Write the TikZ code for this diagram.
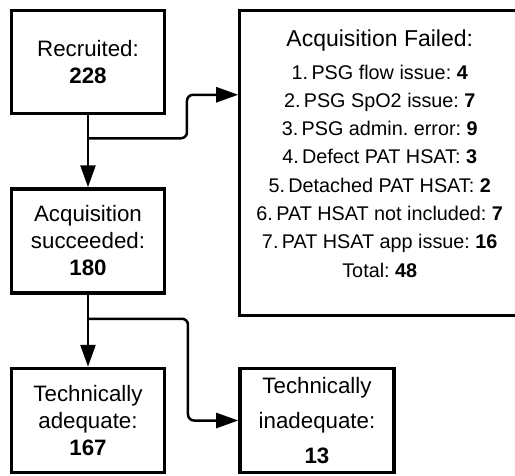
\documentclass[tikz,border=0pt]{standalone}
\usepackage{fontspec}
\setmainfont{Liberation Sans}
\frenchspacing
\usetikzlibrary{arrows.meta, positioning}

\tikzset{
    stagebox/.style={draw, line width=3.5pt, minimum width=153pt, minimum height=104pt,
        inner sep=2pt, align=center, font=\fontsize{22.3}{27}\selectfont},
    failbox/.style={draw, line width=3pt, minimum width=280pt, minimum height=305pt,
        anchor=north west, align=center, font=\fontsize{19.8}{28.3}\selectfont},
    flow/.style={->, line width=2.5pt, rounded corners=6pt}
}

\begin{document}
\begin{tikzpicture}[>={Triangle[length=22pt, width=15pt]}, node distance=72pt and 72pt]
    \path[use as bounding box, clip] (-88pt,62pt) rectangle ++(515pt,-475pt);

    % Nodes
    \node (recruited) [stagebox, minimum height=103pt] {Recruited:\\\textbf{228}};
    \node (succeeded) [stagebox, below=of recruited] {Acquisition\\succeeded:\\\textbf{180}};
    \node (adequate) [stagebox, below=of succeeded] {Technically\\adequate:\\\textbf{167}};
    \node (inadequate) [stagebox, minimum width=154pt, right=of adequate,
        font=\fontsize{22.3}{35}\selectfont] {Technically\\inadequate:\\\textbf{13}};
    \node (failed) [failbox, below right=0pt and 72pt of recruited.north east]
        {{\fontsize{23}{28}\selectfont Acquisition Failed:}\\[4pt]
         1.\,PSG flow issue: \textbf{4}\\
         2.\,PSG SpO2 issue: \textbf{7}\\
         3.\,PSG admin. error: \textbf{9}\\
         4.\,Defect PAT HSAT: \textbf{3}\\
         5.\,Detached PAT HSAT: \textbf{2}\\
         6.\,PAT HSAT not included: \textbf{7}\\
         7.\,PAT HSAT app issue: \textbf{16}\\
         Total: \textbf{48}\\[-10pt]\mbox{}};

    % Split points
    \coordinate [below=23pt of recruited.south] (split1);
    \coordinate [below=24pt of succeeded.south] (split2);

    % Edges
    \draw[flow] (recruited) -- (succeeded);
    \draw[flow] (split1) -- ++(99pt,0) |- ([yshift=-86pt]failed.north west);
    \draw[flow] (succeeded) -- (adequate);
    \draw[flow] (split2) -- ++(100pt,0) |- (inadequate.west);
\end{tikzpicture}
\end{document}
